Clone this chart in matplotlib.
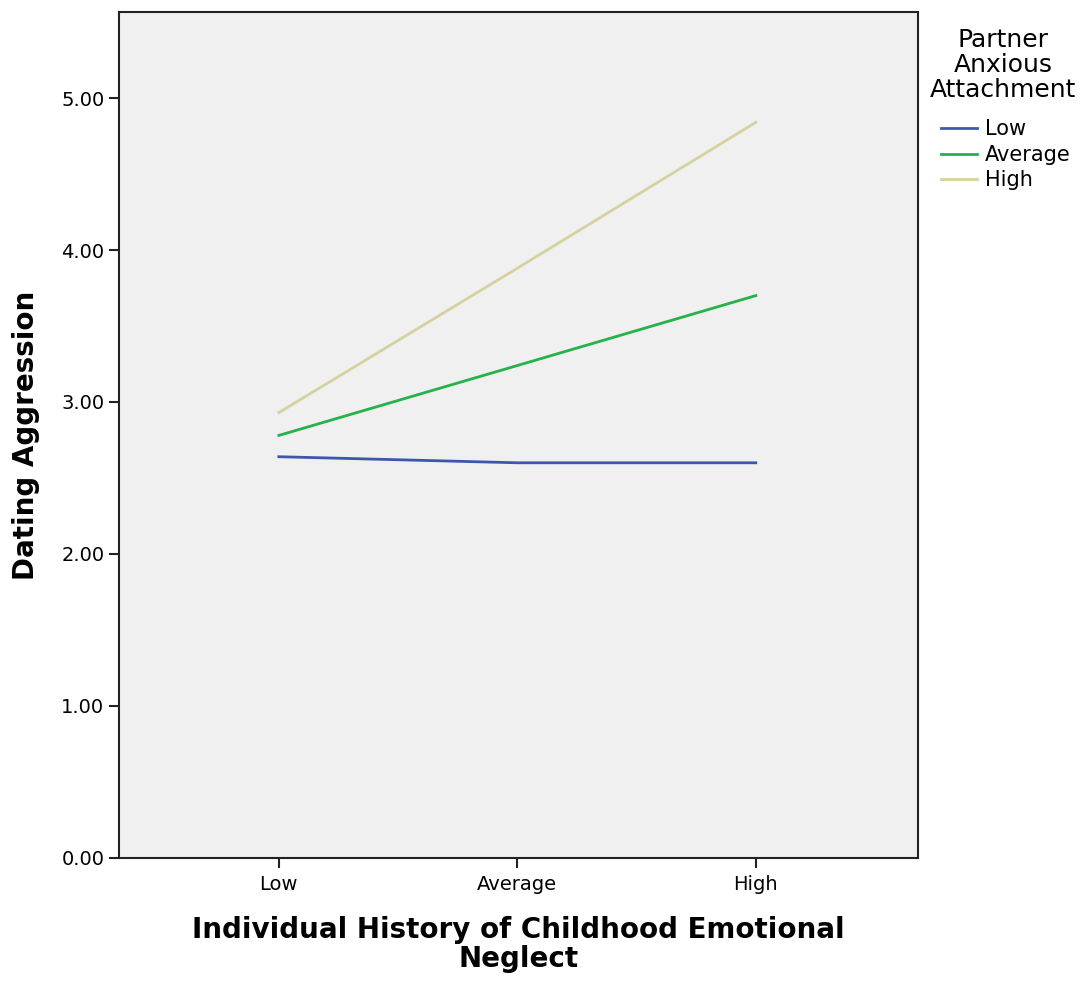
import numpy as np
import matplotlib.pyplot as plt

# values
neglect_levels = ['Low', 'Average', 'High']
anxious_groups = ['Low', 'Average', 'High']
aggression_low = [2.64, 2.60, 2.60]
aggression_avg = [2.78, 3.24, 3.70]
aggression_high = [2.93, 3.88, 4.84]
y_ticks = [0.0, 1.0, 2.0, 3.0, 4.0, 5.0]

COLORS = ['#3e57ad', '#26b24a', '#d6d1a0']

fig = plt.figure(figsize=(10.86, 9.83), dpi=100)
ax = fig.add_axes([0.1096, 0.1272, 0.7357, 0.8606])
ax.set_facecolor('#f0f0f0')

x = np.arange(len(neglect_levels))
series = [aggression_low, aggression_avg, aggression_high]
for vals, name, col in zip(series, anxious_groups, COLORS):
    ax.plot(x, vals, color=col, lw=2, label=name)

ax.set_xlim(-0.67, 2.68)
ax.set_ylim(0, 5.566)
ax.set_xticks(x)
ax.set_xticklabels(neglect_levels, fontsize=14)
ax.set_yticks(y_ticks)
ax.set_yticklabels(['%.2f' % v for v in y_ticks], fontsize=14)
ax.tick_params(direction='out', length=7, width=1.5, color='#222222')
ax.tick_params(axis='x', pad=5)
for s in ax.spines.values():
    s.set_linewidth(1.5)
    s.set_color('#222222')

ax.set_xlabel('Individual History of Childhood Emotional\nNeglect', fontsize=20,
              fontweight='bold', linespacing=1.02)
ax.xaxis.set_label_coords(0.5, -0.069)
ax.set_ylabel('Dating Aggression', fontsize=20, fontweight='bold')
ax.yaxis.set_label_coords(-0.099, 0.5)

fig.text(0.924, 0.9715, 'Partner\nAnxious\nAttachment', ha='center', va='top',
         fontsize=18, linespacing=1.06)
fig.legend(loc='upper left', bbox_to_anchor=(0.859, 0.887), frameon=False,
           fontsize=15, handlelength=1.7, handletextpad=0.4, labelspacing=0.26,
           borderaxespad=0)

fig.savefig('out.png', dpi=100)
